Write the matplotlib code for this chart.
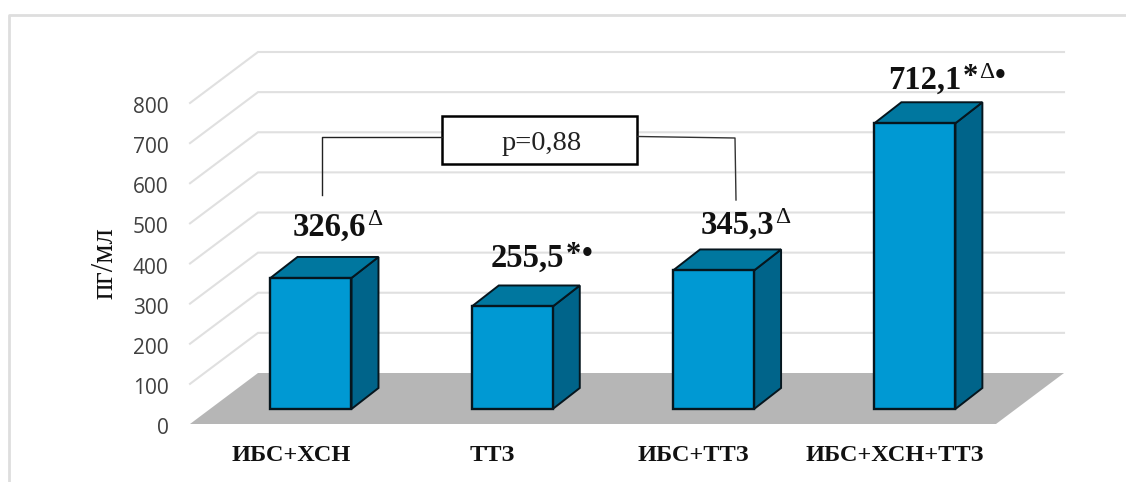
import matplotlib
matplotlib.use("Agg")
import matplotlib.pyplot as plt
from matplotlib.patches import Polygon, Rectangle
from matplotlib.lines import Line2D
from matplotlib.transforms import Affine2D

W, H = 1126, 482

groups = ["ИБС+ХСН", "ТТЗ", "ИБС+ТТЗ", "ИБС+ХСН+ТТЗ"]
values = [326.6, 255.5, 345.3, 712.1]
# significance marks written after each value
marks = ["Δ", "*•", "Δ", "*Δ•"]
yticks = [0, 100, 200, 300, 400, 500, 600, 700, 800]
y_title = "пг/мл"
p_text = "p=0,88"

FACE = "#0099D3"
TOP = "#00779F"
SIDE = "#00648A"
FLOOR = "#B6B6B6"
GRID = "#E0E0E0"
EDGE = "#06161E"
INK = "#111111"

# size in pt, rise in px and weight of each kind of mark
mark_style = {"Δ": (17, 11, "normal"), "*": (22, 4, "bold"), "•": (22, 5, "bold")}


def fx(px):
    return px / W


def fy(py):
    return 1 - py / H


fig = plt.figure(figsize=(W / 100, H / 100), dpi=100)

# outer frame, open on the right and bottom
fig.add_artist(Line2D([fx(9), fx(9), fx(1126)], [fy(482), fy(15), fy(15)], color="#DEDEDE", lw=2))

# front plane of the 3d box: x in category units, y in value units
ax = fig.add_axes([fx(190), fy(424), fx(996) - fx(190), fy(103) - fy(424)])
ax.set_xlim(-0.601, 3.403)
ax.set_ylim(0, 800)
ax.patch.set_alpha(0)
for s in ax.spines.values():
    s.set_visible(False)

per_x = 201.3  # px per category
per_y = 321 / 800  # px per value unit
wall_dx, wall_dy = 68 / per_x, 51 / per_y  # depth of floor
depth_dx, depth_dy = 27 / per_x, 21 / per_y  # depth of a bar
base_dy = 15 / per_y  # bar front stands this far up the floor
bar_w = 81 / per_x
x0, x1 = ax.get_xlim()

# wall gridlines
for t in yticks[1:]:
    ax.plot([x0, x0 + wall_dx, x1 + wall_dx], [t, t + wall_dy, t + wall_dy], color=GRID, lw=1.5,
            clip_on=False, zorder=1, solid_joinstyle="miter")

# floor
ax.add_patch(Polygon([(x0, 0), (x1, 0), (x1 + wall_dx, wall_dy), (x0 + wall_dx, wall_dy)],
                     facecolor=FLOOR, edgecolor="none", clip_on=False, zorder=2))

# bars
for i, v in enumerate(values):
    l, r = i - bar_w / 2, i + bar_w / 2
    b, t = base_dy, base_dy + v
    ax.add_patch(Polygon([(r, b), (r + depth_dx, b + depth_dy), (r + depth_dx, t + depth_dy), (r, t)],
                         facecolor=SIDE, edgecolor=EDGE, lw=1.4, clip_on=False, zorder=3))
    ax.add_patch(Polygon([(l, t), (r, t), (r + depth_dx, t + depth_dy), (l + depth_dx, t + depth_dy)],
                         facecolor=TOP, edgecolor=EDGE, lw=1.4, clip_on=False, zorder=3))
    ax.add_patch(Polygon([(l, b), (r, b), (r, t), (l, t)],
                         facecolor=FACE, edgecolor=EDGE, lw=1.7, clip_on=False, zorder=4))

ax.set_yticks(yticks)
ax.set_yticklabels([str(t) for t in yticks], fontfamily="Open Sans", fontsize=15, color="#404040")
ax.tick_params(axis="y", length=0, pad=15.5)
for lab in ax.get_yticklabels():
    lab.set_transform(lab.get_transform() + Affine2D().translate(0, -2))

# category names are centred on the floor edge, left of the bar fronts
ax.set_xticks(range(len(groups)))
ax.set_xticklabels(groups, fontfamily="Liberation Serif", fontweight="bold", fontsize=17.5, color=INK)
ax.tick_params(axis="x", length=0, pad=15)
for lab in ax.get_xticklabels():
    lab.set_transform(lab.get_transform() + Affine2D().translate(-20, 0))

fig.text(fx(105), fy(263), y_title, rotation=90, ha="center", va="center",
         fontfamily="Liberation Serif", fontsize=22, color=INK)

# value labels, built piece by piece so the marks follow the number
renderer = fig.canvas.get_renderer()
label_pos = [(293, 236), (491, 267), (701, 234), (888, 89)]
for v, m, (px, py) in zip(values, marks, label_pos):
    txt = f"{v}".replace(".", ",")
    t = fig.text(fx(px), fy(py), txt, fontfamily="Liberation Serif", fontweight="bold", fontsize=23.5, color=INK)
    cur = t.get_window_extent(renderer).x1 + 1
    for ch in m:
        size, rise, weight = mark_style[ch]
        t = fig.text(cur / W, fy(py - rise), ch, fontfamily=["Liberation Serif", "DejaVu Sans"],
                     fontweight=weight, fontsize=size, color=INK)
        cur = t.get_window_extent(renderer).x1 + 1

# p-value bracket
fig.add_artist(Line2D([fx(322), fx(322), fx(442)], [fy(195), fy(136.5), fy(136.5)], color="#222222", lw=1))
fig.add_artist(Line2D([fx(638), fx(735), fx(736)], [fy(136.5), fy(138), fy(200)], color="#333333", lw=1))
fig.add_artist(Rectangle((fx(442), fy(164)), fx(636.5) - fx(442), fy(116) - fy(164), facecolor="white",
                         edgecolor="black", lw=1.8, transform=fig.transFigure))
fig.text(fx(542), fy(143), p_text, ha="center", va="center", fontfamily="Liberation Serif", fontsize=20.5, color="#222222")

fig.savefig("out.png", dpi=100)
